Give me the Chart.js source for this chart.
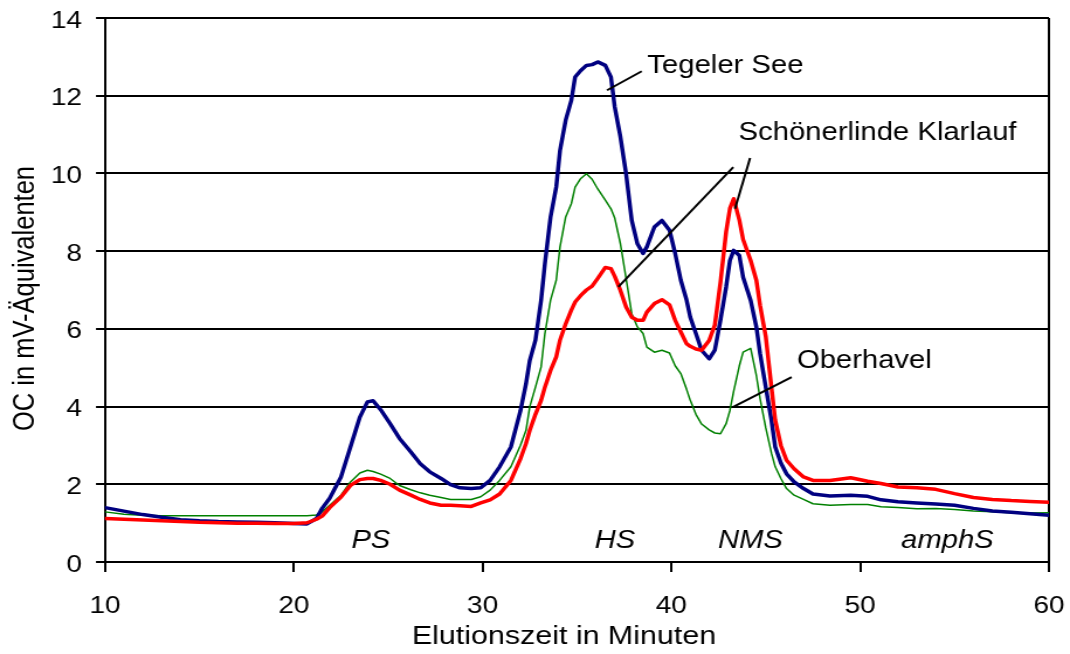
<!DOCTYPE html>
<html lang="de">
<head>
<meta charset="utf-8">
<title>Elutionsprofile</title>
<script src="https://cdn.jsdelivr.net/npm/chart.js@4/dist/chart.umd.min.js"></script>
<style>
  html, body { margin: 0; padding: 0; background: #fff; }
</style>
</head>
<body>
<canvas id="chart" width="915" height="654" style="display:block;width:1070px;height:654px"></canvas>
<script>
// Elution time in minutes (shared sampling for all three profiles)
const minutes = [
  10, 11, 12, 13, 14, 15, 16, 17, 18, 19, 20, 20.7, 21.2, 21.5, 21.9, 22.5, 23.0, 23.5, 23.9, 24.2,
  24.6, 25.1, 25.6, 26.2, 26.7, 27.2, 27.8, 28.3, 28.8, 29.4, 29.9, 30.4, 30.9, 31.5, 32.0, 32.3,
  32.5, 32.8, 33.1, 33.3, 33.6, 33.9, 34.1, 34.4, 34.7, 34.9, 35.2, 35.5, 35.8, 36.1, 36.5, 36.8,
  37.0, 37.3, 37.6, 37.9, 38.2, 38.5, 38.7, 39.1, 39.5, 39.9, 40.2, 40.5, 40.8, 41.0, 41.3, 41.6,
  42.0, 42.3, 42.6, 42.9, 43.1, 43.3, 43.6, 43.8, 44.2, 44.5, 44.7, 45.0, 45.3, 45.5, 45.8, 46.1,
  46.5, 47.0, 47.5, 48.4, 49.5, 50.4, 51.1, 52.0, 53.0, 54.0, 55.0, 56.0, 57.0, 58.0, 59.0, 60
];

// OC signal in mV equivalents
const tegelerSee = [
  1.40, 1.31, 1.22, 1.15, 1.09, 1.06, 1.04, 1.03, 1.02, 1.01, 0.99, 0.98, 1.12, 1.38, 1.64, 2.19, 2.96, 3.73, 4.12, 4.15,
  3.92, 3.56, 3.18, 2.83, 2.53, 2.32, 2.15, 1.99, 1.91, 1.89, 1.91, 2.10, 2.45, 2.96, 3.88, 4.59,
  5.19, 5.71, 6.74, 7.68, 8.88, 9.65, 10.59, 11.37, 11.88, 12.48, 12.65, 12.78, 12.80, 12.87, 12.78, 12.48,
  11.71, 10.94, 9.99, 8.79, 8.19, 7.94, 8.11, 8.62, 8.79, 8.54, 7.94, 7.25, 6.75, 6.30, 5.88, 5.45,
  5.23, 5.45, 6.22, 7.08, 7.76, 8.02, 7.89, 7.33, 6.73, 6.05, 5.36, 4.50, 3.65, 2.96, 2.55, 2.27,
  2.06, 1.89, 1.75, 1.70, 1.72, 1.69, 1.60, 1.55, 1.52, 1.49, 1.46, 1.38, 1.31, 1.28, 1.24, 1.20
];

const schoenerlinde = [
  1.12, 1.10, 1.08, 1.06, 1.04, 1.02, 1.01, 1.00, 1.00, 0.99, 0.99, 1.01, 1.10, 1.18, 1.40, 1.67, 1.97, 2.12, 2.15, 2.15,
  2.10, 2.00, 1.85, 1.72, 1.61, 1.52, 1.46, 1.46, 1.45, 1.43, 1.52, 1.60, 1.75, 2.10, 2.65, 3.05,
  3.39, 3.80, 4.16, 4.50, 4.93, 5.28, 5.71, 6.13, 6.48, 6.69, 6.86, 7.00, 7.10, 7.30, 7.58, 7.55,
  7.35, 6.99, 6.56, 6.30, 6.22, 6.22, 6.43, 6.65, 6.75, 6.62, 6.22, 5.92, 5.62, 5.55, 5.48, 5.45,
  5.70, 6.10, 7.20, 8.50, 9.10, 9.35, 8.80, 8.30, 7.76, 7.25, 6.60, 5.80, 4.50, 3.65, 3.00, 2.62,
  2.40, 2.19, 2.10, 2.10, 2.17, 2.08, 2.02, 1.93, 1.91, 1.87, 1.76, 1.66, 1.61, 1.58, 1.56, 1.54
];

const oberhavel = [
  1.29, 1.23, 1.20, 1.19, 1.19, 1.19, 1.19, 1.19, 1.19, 1.19, 1.19, 1.19, 1.21, 1.29, 1.46, 1.72, 2.06, 2.29, 2.36, 2.33,
  2.26, 2.15, 1.97, 1.86, 1.78, 1.72, 1.66, 1.61, 1.61, 1.61, 1.68, 1.85, 2.10, 2.45, 3.00, 3.39,
  4.00, 4.50, 5.02, 5.88, 6.74, 7.25, 8.11, 8.88, 9.22, 9.65, 9.87, 9.99, 9.85, 9.60, 9.31, 9.09,
  8.85, 8.19, 7.30, 6.39, 6.05, 5.88, 5.53, 5.40, 5.45, 5.38, 5.05, 4.85, 4.45, 4.16, 3.80, 3.55,
  3.40, 3.32, 3.30, 3.56, 3.90, 4.40, 5.05, 5.40, 5.50, 4.80, 4.20, 3.45, 2.80, 2.45, 2.15, 1.89,
  1.72, 1.61, 1.50, 1.46, 1.48, 1.48, 1.42, 1.40, 1.37, 1.38, 1.35, 1.31, 1.29, 1.27, 1.26, 1.27
];

// Axis ticks and titles
const xTickValues = [10, 20, 30, 40, 50, 60];
const yTickValues = [0, 2, 4, 6, 8, 10, 12, 14];
const xTitle = 'Elutionszeit in Minuten';
const yTitle = 'OC in mV-Äquivalenten';

// Fraction names (italic labels along the time axis)
const fractionNames = ['PS', 'HS', 'NMS', 'amphS'];
const fractionCenters = [24.08, 37.01, 44.19, 54.62];

// Series labels with their leader lines: [text, textX, textY, [[x1,y1,x2,y2], ...]]
const seriesLabels = [
  ['Tegeler See', 38.73, 12.76, [[36.59, 12.14, 38.43, 12.63]]],
  ['Schönerlinde Klarlauf', 43.56, 11.03, [[37.19, 7.08, 43.28, 10.16], [43.37, 9.09, 44.17, 10.40]]],
  ['Oberhavel', 46.65, 5.18, [[43.28, 3.99, 46.37, 4.76]]]
];

const FONT = '"Liberation Sans", Arial, Helvetica, sans-serif';

const toPoints = (vals) => minutes.map((m, i) => ({ x: m, y: vals[i] }));

const labelPlugin = {
  id: 'seriesLabels',
  afterDatasetsDraw(chart) {
    const { ctx, scales: { x, y } } = chart;
    ctx.save();
    ctx.strokeStyle = '#000';
    ctx.lineWidth = 2;
    ctx.fillStyle = '#000';
    ctx.textBaseline = 'middle';
    ctx.textAlign = 'left';
    ctx.font = '25px ' + FONT;
    seriesLabels.forEach(([text, tx, ty, lines]) => {
      lines.forEach(([x1, y1, x2, y2]) => {
        ctx.beginPath();
        ctx.moveTo(x.getPixelForValue(x1), y.getPixelForValue(y1));
        ctx.lineTo(x.getPixelForValue(x2), y.getPixelForValue(y2));
        ctx.stroke();
      });
      ctx.fillText(text, x.getPixelForValue(tx), y.getPixelForValue(ty));
    });
    ctx.textAlign = 'center';
    ctx.font = 'italic 25px ' + FONT;
    fractionNames.forEach((name, i) => {
      ctx.fillText(name, x.getPixelForValue(fractionCenters[i]), y.getPixelForValue(0.55));
    });
    ctx.restore();
  },
  afterDraw(chart) {
    const { ctx } = chart;
    ctx.save();
    ctx.fillStyle = '#000';
    ctx.textAlign = 'center';
    ctx.textBaseline = 'middle';
    ctx.font = '26px ' + FONT;
    ctx.fillText(xTitle, 482.3, 637);
    ctx.translate(22.2, 298.5);
    ctx.rotate(-Math.PI / 2);
    ctx.font = '25.5px ' + FONT;
    ctx.fillText(yTitle, 0, 0);
    ctx.restore();
  }
};

new Chart(document.getElementById('chart'), {
  type: 'line',
  data: {
    datasets: [
      { label: 'Schönerlinde Klarlauf', data: toPoints(schoenerlinde), borderColor: '#ff0000', borderWidth: 3.5 },
      { label: 'Tegeler See', data: toPoints(tegelerSee), borderColor: '#000080', borderWidth: 3.5 },
      { label: 'Oberhavel', data: toPoints(oberhavel), borderColor: '#008000', borderWidth: 1.5 }
    ]
  },
  options: {
    responsive: false,
    animation: false,
    devicePixelRatio: 1,
    elements: {
      point: { radius: 0, hoverRadius: 0 },
      line: { tension: 0, fill: false, borderJoinStyle: 'round', borderCapStyle: 'round' }
    },
    layout: { padding: { left: 0, right: 18, top: 18, bottom: 0 } },
    plugins: { legend: { display: false }, tooltip: { enabled: false } },
    scales: {
      x: {
        type: 'linear',
        min: 10, max: 60,
        afterBuildTicks: (s) => { s.ticks = xTickValues.map(v => ({ value: v })); },
        afterFit: (s) => { s.height = 92; s.paddingLeft = 0; s.paddingRight = 0; },
        border: { display: true, color: '#000', width: 2 },
        grid: {
          drawOnChartArea: true,
          color: (c) => (c.tick && c.tick.value === 60 ? '#000' : 'rgba(0,0,0,0)'),
          tickColor: '#000',
          lineWidth: 2,
          tickLength: 10
        },
        ticks: { color: '#000', font: { family: FONT, size: 24 }, padding: 20, maxRotation: 0 },
        title: { display: false }
      },
      y: {
        min: 0, max: 14,
        afterBuildTicks: (s) => { s.ticks = yTickValues.map(v => ({ value: v })); },
        afterFit: (s) => { s.width = 89.8; s.paddingTop = 0; s.paddingBottom = 0; },
        border: { display: true, color: '#000', width: 2 },
        grid: { color: '#000', lineWidth: 2, tickLength: 7.7, tickColor: '#000' },
        ticks: { color: '#000', font: { family: FONT, size: 24 }, padding: 12, labelOffset: 3 },
        title: { display: false }
      }
    }
  },
  plugins: [labelPlugin]
});
</script>
</body>
</html>
